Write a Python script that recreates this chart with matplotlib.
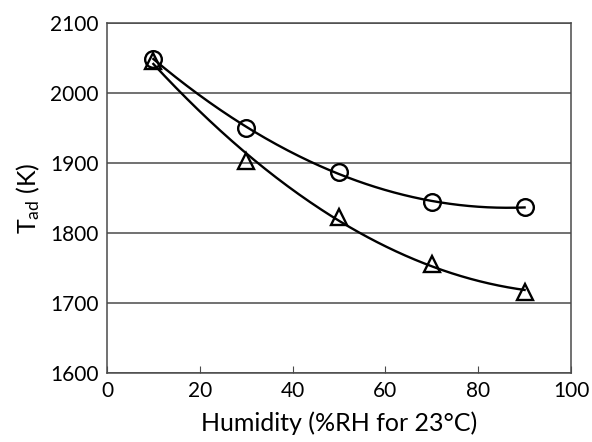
import numpy as np
import matplotlib
matplotlib.use("Agg")
import matplotlib.pyplot as plt

plt.rcParams['font.family'] = ['Lato', 'DejaVu Sans']
plt.rcParams['mathtext.fontset'] = 'custom'
plt.rcParams['mathtext.rm'] = 'Lato'
plt.rcParams['mathtext.it'] = 'Lato'

humidity = [10, 30, 50, 70, 90]
tad_circle = [2049, 1950, 1887, 1844, 1837]
tad_triangle = [2046, 1903, 1823, 1756, 1716]

fig = plt.figure(figsize=(5.92, 4.42), dpi=100)
ax = fig.add_axes([0.1807, 0.156, 0.7838, 0.792])

xs = np.linspace(min(humidity), max(humidity), 200)
for vals, mk in [(tad_circle, 'o'), (tad_triangle, '^')]:
    c = np.polyfit(humidity, vals, 2)
    ax.plot(xs, np.polyval(c, xs), color='black', lw=1.7, zorder=3)
    ax.plot(humidity, vals, linestyle='none', marker=mk, markersize=12,
            markerfacecolor='none', markeredgecolor='black', markeredgewidth=1.7, zorder=4)

ax.set_xlim(0, 100)
ax.set_ylim(1600, 2100)
ax.set_xticks([0, 20, 40, 60, 80, 100])
ax.set_yticks([1600, 1700, 1800, 1900, 2000, 2100])
ax.yaxis.grid(True, color='#4a4a4a', lw=1.1)
ax.set_axisbelow(True)
for s in ax.spines.values():
    s.set_color('#4a4a4a')
    s.set_linewidth(1.1)
ax.tick_params(axis='x', direction='in', length=5, color='#4a4a4a', labelsize=15, pad=6)
ax.tick_params(axis='y', length=0, labelsize=15, pad=6)
ax.set_xlabel('Humidity (%RH for 23°C)', fontsize=18, labelpad=7)
ax.set_ylabel(r'T$_{\mathregular{ad}}$ (K)', fontsize=18, labelpad=6)

fig.savefig('out.png', dpi=100)
